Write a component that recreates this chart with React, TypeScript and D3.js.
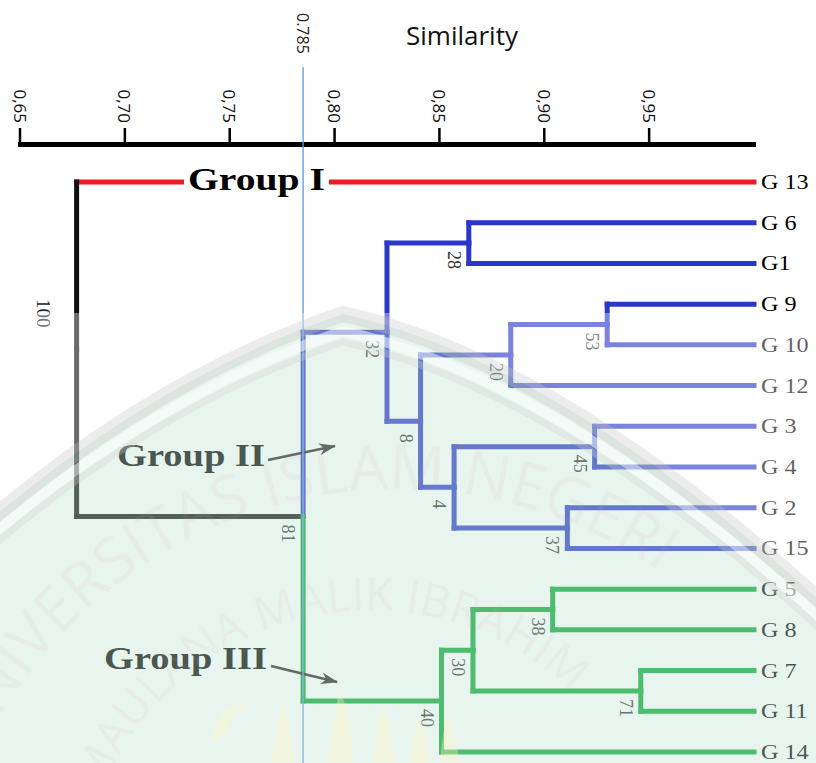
import React from "react";
import * as d3 from "d3";

// ---------- data ----------
const leaves = ["G 13", "G 6", "G1", "G 9", "G 10", "G 12", "G 3", "G 4", "G 2", "G 15", "G 5", "G 8", "G 7", "G 11", "G 14"];
const leafGroup = ["I", "II", "II", "II", "II", "II", "II", "II", "II", "II", "III", "III", "III", "III", "III"];

const mergeIds = ["m28", "m53", "m20", "m45", "m37", "m4", "m8", "m32", "m38", "m71", "m30", "m40", "m81", "m100"];
const mergeLeft = ["G 6", "G 9", "m53", "G 3", "G 2", "m45", "m20", "m28", "G 5", "G 7", "m38", "m30", "m32", "G 13"];
const mergeRight = ["G1", "G 10", "G 12", "G 4", "G 15", "m37", "m4", "m8", "G 8", "G 11", "m71", "G 14", "m40", "m81"];
const mergeSimilarity = [0.864, 0.93, 0.884, 0.924, 0.911, 0.857, 0.841, 0.825, 0.904, 0.946, 0.866, 0.851, 0.785, 0.677];
const mergeSupport = [28, 53, 20, 45, 37, 4, 8, 32, 38, 71, 30, 40, 81, 100];

const tickValues = [0.65, 0.7, 0.75, 0.8, 0.85, 0.9, 0.95];
const tickLabels = ["0,65", "0,70", "0,75", "0,80", "0,85", "0,90", "0,95"];
const axisTitle = "Similarity";
const cutValue = 0.785;
const cutLabel = "0.785";
const groupNames = ["Group I", "Group II", "Group III"];
const watermarkLines = ["UNIVERSITAS ISLAM NEGERI", "MAULANA MALIK IBRAHIM"];

const groupColors: Record<string, string> = { I: "#ec1c24", II: "#2b37c8", III: "#05a531" };
const rootColor = "#111111";

type Node = { id: string; x: number; y: number; color: string; leaf: boolean; root?: boolean; support?: number; children?: Node[] };

export default function App() {
  const W = 816;
  const H = 763;
  const x = d3.scaleLinear().domain([0.65, 1]).range([20, 754]);
  const y = d3.scalePoint<string>().domain(leaves).range([182, 752]);

  const nodes = new Map<string, Node>();
  leaves.forEach((l, i) => nodes.set(l, { id: l, x: x(1), y: y(l) as number, color: groupColors[leafGroup[i]], leaf: true }));
  mergeIds.forEach((id, i) => {
    const a = nodes.get(mergeLeft[i])!;
    const b = nodes.get(mergeRight[i])!;
    nodes.set(id, {
      id,
      x: x(mergeSimilarity[i]),
      y: (a.y + b.y) / 2,
      color: a.color === b.color ? a.color : rootColor,
      leaf: false,
      root: i === mergeIds.length - 1,
      support: mergeSupport[i],
      children: [a, b],
    });
  });
  const internal = mergeIds.map((id) => nodes.get(id)!);

  const horiz: { x1: number; x2: number; y: number; c: string }[] = [];
  const vert: { x: number; y1: number; y2: number; c: string }[] = [];
  internal.forEach((p) => {
    p.children!.forEach((c) => {
      horiz.push({ x1: p.x, x2: c.x, y: c.y, c: c.color });
      vert.push({ x: p.x, y1: p.y, y2: c.y, c: p.root ? rootColor : c.color });
    });
  });

  const axisY = 144.5;
  const cx = x(cutValue);

  // watermark geometry
  const apex = "343,314";
  const archD = `M${apex} Q160,376 -10,520 L-10,790 L830,790 L830,610 Q560,362 ${apex} Z`;
  const bandD = `M-10,520 Q160,376 ${apex} Q560,362 830,610`;
  const outsideD = `M0,313 H816 V763 H0 Z ` + archD;
  const ovA = 0.38;

  return (
    <svg width={W} height={H} style={{ position: "absolute", left: 0, top: 0, display: "block", background: "#ffffff" }}>
      <defs>
        <marker id="arr" markerUnits="userSpaceOnUse" markerWidth="18" markerHeight="14" refX="16" refY="7" orient="auto">
          <path d="M0,1 L17,7 L0,13 L5,7 Z" fill="#222" />
        </marker>
        <path id="outerArc" d="M-62,948 A459,459 0 0 1 856,948" />
        <path id="innerArc" d="M80,900 A290,290 0 0 1 660,900" />
      </defs>

      {/* title */}
      <text x={462} y={45} textAnchor="middle" fontFamily="'Open Sans', sans-serif" fontSize={26} fill="#111">
        {axisTitle}
      </text>

      {/* axis */}
      <line x1={x(0.65) - 2} x2={x(1) + 2} y1={axisY} y2={axisY} stroke="#000" strokeWidth={5} />
      {tickValues.map((v, i) => (
        <g key={v}>
          <line x1={x(v)} x2={x(v)} y1={128} y2={axisY} stroke="#000" strokeWidth={2.5} />
          <text
            transform={`translate(${x(v)},123) rotate(90)`}
            textAnchor="end"
            dominantBaseline="central"
            fontFamily="'Open Sans', sans-serif"
            fontSize={17}
            fill="#111"
          >
            {tickLabels[i]}
          </text>
        </g>
      ))}

      {/* dendrogram */}
      {horiz.map((s, i) => (
        <line key={"h" + i} x1={s.x1} x2={s.x2} y1={s.y} y2={s.y} stroke={s.c} strokeWidth={5} strokeLinecap="square" />
      ))}
      {vert.map((s, i) => (
        <line key={"v" + i} x1={s.x} x2={s.x} y1={s.y1} y2={s.y2} stroke={s.c} strokeWidth={5} strokeLinecap="square" />
      ))}

      {/* support values */}
      {internal.map((n) => (
        <text
          key={"s" + n.id}
          transform={n.root ? `translate(${n.x - 33},${n.y - 36}) rotate(90)` : `translate(${n.x - 15},${n.y + 17}) rotate(90)`}
          textAnchor="middle"
          dominantBaseline="central"
          fontFamily="'Liberation Serif', 'Times New Roman', serif"
          fontSize={n.root ? 19 : 18}
          fill={n.root ? "#222" : "#333"}
        >
          {n.support}
        </text>
      ))}

      {/* leaf labels */}
      {leaves.map((l) => (
        <text
          key={"l" + l}
          transform={`translate(${x(1) + 7},${(y(l) as number) + 7}) scale(1.15,1)`}
          fontFamily="'Liberation Serif', 'Times New Roman', serif"
          fontSize={21}
          fill="#000"
        >
          {l}
        </text>
      ))}

      {/* Group I label on the red branch */}
      <rect x={184} y={166} width={145} height={30} fill="#fff" />
      <text x={188} y={190} textLength={137} lengthAdjust="spacingAndGlyphs" fontFamily="'Liberation Serif', 'Times New Roman', serif" fontWeight="bold" fontSize={32} fill="#000">
        {groupNames[0]}
      </text>

      {/* Group II / III labels with arrows */}
      <text x={117} y={466} textLength={148} lengthAdjust="spacingAndGlyphs" fontFamily="'Liberation Serif', 'Times New Roman', serif" fontWeight="bold" fontSize={32} fill="#000">
        {groupNames[1]}
      </text>
      <line x1={268} y1={460} x2={335} y2={446} stroke="#222" strokeWidth={2.5} markerEnd="url(#arr)" />
      <text x={104} y={669} textLength={163} lengthAdjust="spacingAndGlyphs" fontFamily="'Liberation Serif', 'Times New Roman', serif" fontWeight="bold" fontSize={32} fill="#000">
        {groupNames[2]}
      </text>
      <line x1={271} y1={666} x2={337} y2={682} stroke="#222" strokeWidth={2.5} markerEnd="url(#arr)" />

      {/* cut line */}
      <line x1={cx} x2={cx} y1={67} y2={H} stroke="#5b9bd5" strokeWidth={1.3} />
      <text
        transform={`translate(${cx},13) rotate(90)`}
        textAnchor="start"
        dominantBaseline="central"
        fontFamily="'Open Sans', sans-serif"
        fontSize={16}
        fill="#222"
      >
        {cutLabel}
      </text>

      {/* watermark overlay */}
      <g pointerEvents="none">
        <path d={outsideD} fill="#ffffff" fillRule="evenodd" opacity={ovA} />
        <path d={archD} fill="#c2e2d2" opacity={ovA} />
        <path d={bandD} fill="none" stroke="#c4c4c4" strokeWidth={16} opacity={0.32} />
        <path d={bandD} transform="translate(0,17)" fill="none" stroke="#ffffff" strokeWidth={10} opacity={0.5} />
        <path d={bandD} transform="translate(0,28)" fill="none" stroke="#cfcfcf" strokeWidth={7} opacity={0.3} />
        <text fontFamily="'Open Sans', sans-serif" fontSize={62} fill="#d4aab4" opacity={0.08}>
          <textPath href="#outerArc" startOffset={196}>{watermarkLines[0]}</textPath>
        </text>
        <text fontFamily="'Open Sans', sans-serif" fontSize={46} fill="#d4aab4" opacity={0.08}>
          <textPath href="#innerArc" startOffset={110}>{watermarkLines[1]}</textPath>
        </text>
        <g fill="#fff6bf" opacity={0.35}>
          <path d="M272,763 Q275,725 283,702 Q292,728 294,763 Z" />
          <path d="M328,763 Q332,720 340,688 Q351,720 353,763 Z" />
          <path d="M372,763 Q376,728 383,706 Q392,730 395,763 Z" />
          <path d="M410,763 Q414,735 420,716 Q427,738 430,763 Z" />
          <path d="M440,763 Q442,735 448,712 Q456,738 460,763 Z" />
          <path d="M212,735 Q220,700 248,705 Q232,712 230,722 Q228,738 212,740 Z" />
        </g>
      </g>
    </svg>
  );
}
